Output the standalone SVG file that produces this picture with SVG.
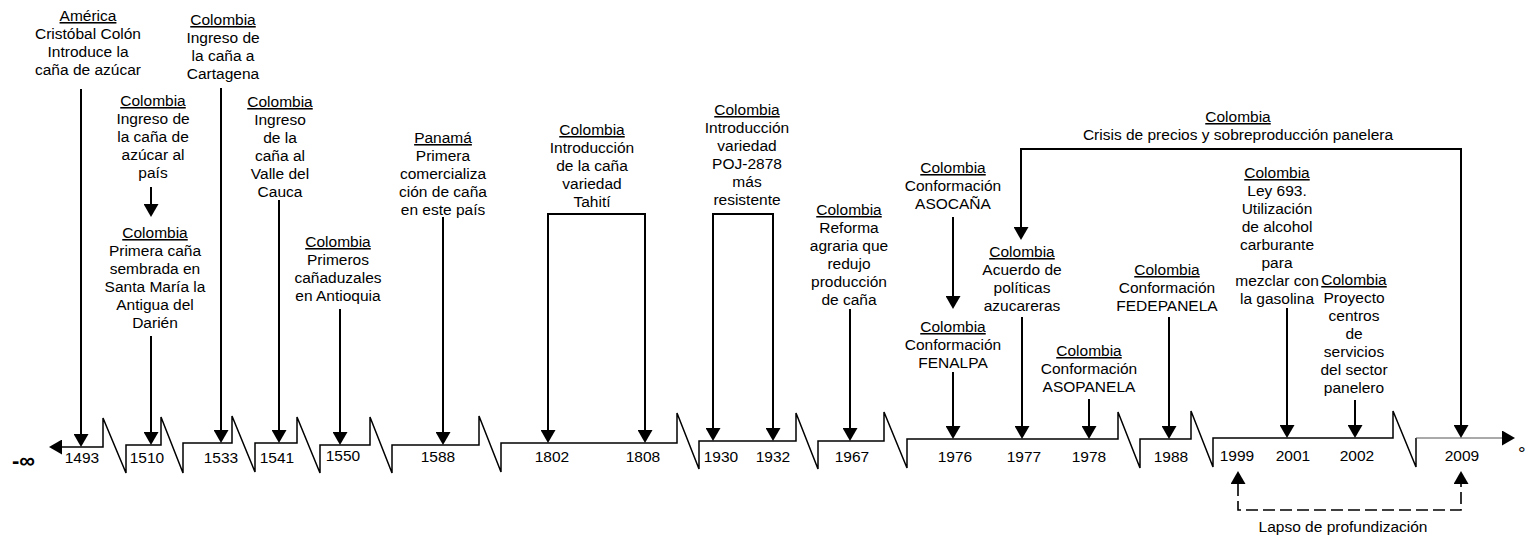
<svg xmlns="http://www.w3.org/2000/svg" width="1526" height="535" viewBox="0 0 1526 535">
<style>
text{font-family:"Liberation Sans",Arial,sans-serif;font-size:15.5px;fill:#000;text-anchor:middle}
.u{text-decoration:underline}
.ln{fill:none;stroke:#000;stroke-width:2}
.ar{marker-end:url(#ah)}
.br{marker-start:url(#ah);marker-end:url(#ah)}
.axis{fill:none;stroke:#000;stroke-width:1.5;stroke-linejoin:miter}
.dash{fill:none;stroke:#000;stroke-width:1.6;stroke-dasharray:12 5}
</style>
<defs>
<marker id="ah" viewBox="0 0 13 15" refX="0" refY="7.5" markerWidth="13" markerHeight="15" markerUnits="userSpaceOnUse" orient="auto-start-reverse">
<path d="M0,0 L13,7.5 L0,15 z" fill="#000"/>
</marker>
</defs>

<g id="timeline">
<path class="axis" style="marker-start:url(#ah)" d="M62,447 H103 V418 L126,473 V445 H161 V417 L183,473 V443 H232 V416 L255,472 V443 H297 V417 L320,473 V445 H370 V417 L392,473 V445 H479 V416 L501,472 V443 H677 V413 L699,469 V441 H796 V413 L818,469 V441 H884 V412 L907,468 V439 H1118 V412 L1140,468 V439 H1191 V411 L1213,467 V438 H1393 V411 L1416,467 V438"/>
<path d="M1416,438 H1502" fill="none" stroke="#555" stroke-width="1" marker-end="url(#ah)"/>
<text x="12" y="468" style="font-size:22px;font-weight:bold;text-anchor:start">-∞</text>
<text x="1518" y="460" style="font-size:19px;text-anchor:start">°</text>
<text x="82" y="463">1493</text>
<text x="147" y="463">1510</text>
<text x="221" y="463">1533</text>
<text x="277" y="463">1541</text>
<text x="343" y="461">1550</text>
<text x="438" y="462">1588</text>
<text x="552" y="462">1802</text>
<text x="643" y="462">1808</text>
<text x="721" y="462">1930</text>
<text x="773" y="462">1932</text>
<text x="852" y="462">1967</text>
<text x="955" y="462">1976</text>
<text x="1024" y="462">1977</text>
<text x="1089" y="462">1978</text>
<text x="1171" y="462">1988</text>
<text x="1237" y="461">1999</text>
<text x="1293" y="461">2001</text>
<text x="1357" y="461">2002</text>
<text x="1462" y="461">2009</text>
</g>

<g id="connectors">
<path class="ln ar" d="M81,89 V434"/>
<path class="ln ar" d="M151,187 V204"/>
<path class="ln ar" d="M151,336 V432"/>
<path class="ln ar" d="M221,88 V430"/>
<path class="ln ar" d="M279,200 V430"/>
<path class="ln ar" d="M340,309 V432"/>
<path class="ln ar" d="M443,217 V432"/>
<path class="ln br" d="M548,430 V214 H645 V430"/>
<path class="ln br" d="M713,428 V214 H773 V428"/>
<path class="ln ar" d="M850,309 V428"/>
<path class="ln ar" d="M953,217 V296"/>
<path class="ln ar" d="M953,372 V426"/>
<path class="ln ar" d="M1022,317 V426"/>
<path class="ln ar" d="M1089,399 V426"/>
<path class="ln ar" d="M1169,317 V426"/>
<path class="ln br" d="M1021,227 V149 H1461 V425"/>
<path class="ln ar" d="M1287,308 V425"/>
<path class="ln ar" d="M1355,400 V425"/>
<path class="dash" style="marker-start:url(#ah);marker-end:url(#ah)" d="M1238,484 V510 H1461 V484"/>
</g>

<g id="n1493"><text x="88" y="21"><tspan class="u">América</tspan><tspan x="88" dy="18">Cristóbal Colón</tspan><tspan x="88" dy="18">Introduce la</tspan><tspan x="88" dy="18">caña de azúcar</tspan></text></g>

<g id="n1510a"><text x="153" y="106"><tspan class="u">Colombia</tspan><tspan x="153" dy="18">Ingreso de</tspan><tspan x="153" dy="18">la caña de</tspan><tspan x="153" dy="18">azúcar al</tspan><tspan x="153" dy="18">país</tspan></text></g>

<g id="n1510b"><text x="155" y="238"><tspan class="u">Colombia</tspan><tspan x="155" dy="18">Primera caña</tspan><tspan x="155" dy="18">sembrada en</tspan><tspan x="155" dy="18">Santa María la</tspan><tspan x="155" dy="18">Antigua del</tspan><tspan x="155" dy="18">Darién</tspan></text></g>

<g id="n1533"><text x="223" y="25"><tspan class="u">Colombia</tspan><tspan x="223" dy="18">Ingreso de</tspan><tspan x="223" dy="18">la caña a</tspan><tspan x="223" dy="18">Cartagena</tspan></text></g>

<g id="n1541"><text x="280" y="107"><tspan class="u">Colombia</tspan><tspan x="280" dy="18">Ingreso</tspan><tspan x="280" dy="18">de la</tspan><tspan x="280" dy="18">caña al</tspan><tspan x="280" dy="18">Valle del</tspan><tspan x="280" dy="18">Cauca</tspan></text></g>

<g id="n1550"><text x="338" y="247"><tspan class="u">Colombia</tspan><tspan x="338" dy="18">Primeros</tspan><tspan x="338" dy="18">cañaduzales</tspan><tspan x="338" dy="18">en Antioquia</tspan></text></g>

<g id="n1588"><text x="443" y="143"><tspan class="u">Panamá</tspan><tspan x="443" dy="18">Primera</tspan><tspan x="443" dy="18">comercializa</tspan><tspan x="443" dy="18">ción de caña</tspan><tspan x="443" dy="18">en este país</tspan></text></g>

<g id="n1802"><text x="592" y="135"><tspan class="u">Colombia</tspan><tspan x="592" dy="18">Introducción</tspan><tspan x="592" dy="18">de la caña</tspan><tspan x="592" dy="18">variedad</tspan><tspan x="592" dy="18">Tahití</tspan></text></g>

<g id="n1930"><text x="747" y="115"><tspan class="u">Colombia</tspan><tspan x="747" dy="18">Introducción</tspan><tspan x="747" dy="18">variedad</tspan><tspan x="747" dy="18">POJ-2878</tspan><tspan x="747" dy="18">más</tspan><tspan x="747" dy="18">resistente</tspan></text></g>

<g id="n1967"><text x="849" y="215"><tspan class="u">Colombia</tspan><tspan x="849" dy="18">Reforma</tspan><tspan x="849" dy="18">agraria que</tspan><tspan x="849" dy="18">redujo</tspan><tspan x="849" dy="18">producción</tspan><tspan x="849" dy="18">de caña</tspan></text></g>

<g id="n1976a"><text x="953" y="173"><tspan class="u">Colombia</tspan><tspan x="953" dy="18">Conformación</tspan><tspan x="953" dy="18">ASOCAÑA</tspan></text></g>

<g id="n1976b"><text x="953" y="332"><tspan class="u">Colombia</tspan><tspan x="953" dy="18">Conformación</tspan><tspan x="953" dy="18">FENALPA</tspan></text></g>

<g id="n1977"><text x="1022" y="257"><tspan class="u">Colombia</tspan><tspan x="1022" dy="18">Acuerdo de</tspan><tspan x="1022" dy="18">políticas</tspan><tspan x="1022" dy="18">azucareras</tspan></text></g>

<g id="n1978"><text x="1089" y="356"><tspan class="u">Colombia</tspan><tspan x="1089" dy="18">Conformación</tspan><tspan x="1089" dy="18">ASOPANELA</tspan></text></g>

<g id="n1988"><text x="1167" y="275"><tspan class="u">Colombia</tspan><tspan x="1167" dy="18">Conformación</tspan><tspan x="1167" dy="18">FEDEPANELA</tspan></text></g>

<g id="nCrisis"><text x="1238" y="122"><tspan class="u">Colombia</tspan><tspan x="1238" dy="18">Crisis de precios y sobreproducción panelera</tspan></text></g>

<g id="n2001"><text x="1277" y="178"><tspan class="u">Colombia</tspan><tspan x="1277" dy="18">Ley 693.</tspan><tspan x="1277" dy="18">Utilización</tspan><tspan x="1277" dy="18">de alcohol</tspan><tspan x="1277" dy="18">carburante</tspan><tspan x="1277" dy="18">para</tspan><tspan x="1277" dy="18">mezclar con</tspan><tspan x="1277" dy="18">la gasolina</tspan></text></g>

<g id="n2002"><text x="1354" y="285"><tspan class="u">Colombia</tspan><tspan x="1354" dy="18">Proyecto</tspan><tspan x="1354" dy="18">centros</tspan><tspan x="1354" dy="18">de</tspan><tspan x="1354" dy="18">servicios</tspan><tspan x="1354" dy="18">del sector</tspan><tspan x="1354" dy="18">panelero</tspan></text></g>

<g id="nLapso"><text x="1343" y="532">Lapso de profundización</text></g>
</svg>
